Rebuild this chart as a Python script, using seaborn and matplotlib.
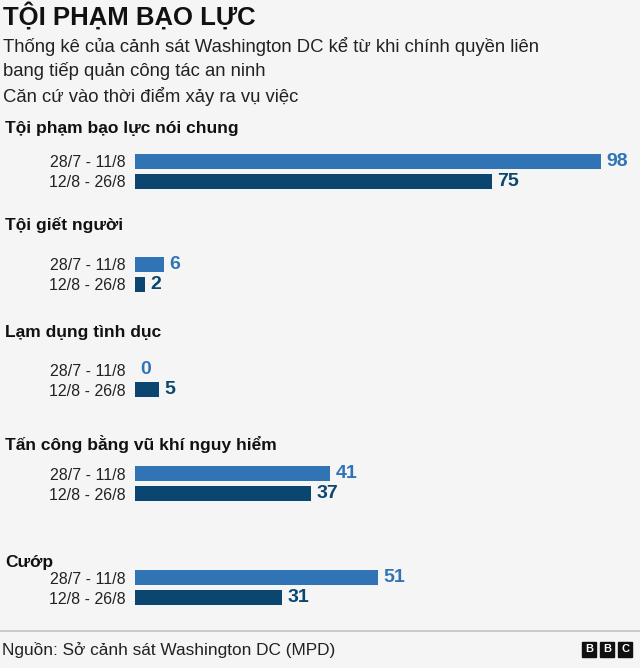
import matplotlib
matplotlib.use("Agg")
import matplotlib.pyplot as plt
from matplotlib.patches import Rectangle
from matplotlib.lines import Line2D
import seaborn as sns
import pandas as pd

categories = ["Tội phạm bạo lực nói chung", "Tội giết người", "Lạm dụng tình dục",
              "Tấn công bằng vũ khí nguy hiểm", "Cướp"]
periods = ["28/7 - 11/8", "12/8 - 26/8"]
first_period = [98, 6, 0, 41, 51]
second_period = [75, 2, 5, 37, 31]

title = "TỘI PHẠM BẠO LỰC"
subtitle = ["Thống kê của cảnh sát Washington DC kể từ khi chính quyền liên",
            "bang tiếp quản công tác an ninh",
            "Căn cứ vào thời điểm xảy ra vụ việc"]
source = "Nguồn: Sở cảnh sát Washington DC (MPD)"

colors = ["#3174b6", "#0b4670"]
bg = "#f5f5f5"

sns.set_style("white")
plt.rcParams['font.family'] = ['Liberation Sans', 'DejaVu Sans']

W, H = 640, 668
fig = plt.figure(figsize=(6.4, 6.68), dpi=100, facecolor=bg)


def fx(x):
    return x / W


def fy(y):
    return 1 - y / H


# pixel layout of each group: header centre and centre of first bar
header_y = [128, 225, 333, 444, 562]
bar_y = [161, 264.5, 370, 474, 577.5]
px_per_unit = 4.756
ax_left, ax_width = 135, 500

fig.text(fx(3), fy(16), title, fontsize=18.5, fontweight='bold', va='center', color='#111111')
for i, line in enumerate(subtitle):
    fig.text(fx(3), fy(46 + i * 25.5), line, fontsize=13.3, va='center', color='#222222')

for i, cat in enumerate(categories):
    df = pd.DataFrame({"period": periods,
                       "value": [first_period[i], second_period[i]]})
    top = bar_y[i] - 10
    ax = fig.add_axes([fx(ax_left), fy(top + 40), ax_width / W, 40 / H])
    ax.set_facecolor('none')
    sns.barplot(data=df, x="value", y="period", hue="period", palette=colors,
                orient="h", width=0.75, saturation=1, linewidth=0,
                legend=False, ax=ax)
    ax.set_xlim(0, ax_width / px_per_unit)
    ax.set_ylim(1.5, -0.5)
    for cont, col in zip(ax.containers, colors):
        ax.bar_label(cont, padding=4, color=col, fontsize=14, fontweight='bold')
    sns.despine(ax=ax, left=True, bottom=True)
    ax.set_xticks([])
    ax.set_xlabel("")
    ax.set_ylabel("")
    ax.tick_params(axis='y', length=0, pad=7, labelsize=11.5, labelcolor='#222222')
    fig.text(fx(5), fy(header_y[i]), cat, fontsize=12.5, fontweight='bold',
             va='center', color='#111111')

# footer
fig.add_artist(Line2D([0, 1], [fy(631), fy(631)], color='#c6c6c6', lw=1.3))
fig.text(fx(2), fy(650), source, fontsize=12.4, va='center', color='#222222')
for k, letter in enumerate("BBC"):
    x0 = 582 + k * 18
    fig.add_artist(Rectangle((fx(x0), fy(657)), 14 / W, 15 / H, color='#111111',
                             transform=fig.transFigure))
    fig.text(fx(x0 + 7), fy(649.5), letter, fontsize=8, fontweight='bold',
             color='white', ha='center', va='center')

fig.savefig("out.png", dpi=100, facecolor=bg)
